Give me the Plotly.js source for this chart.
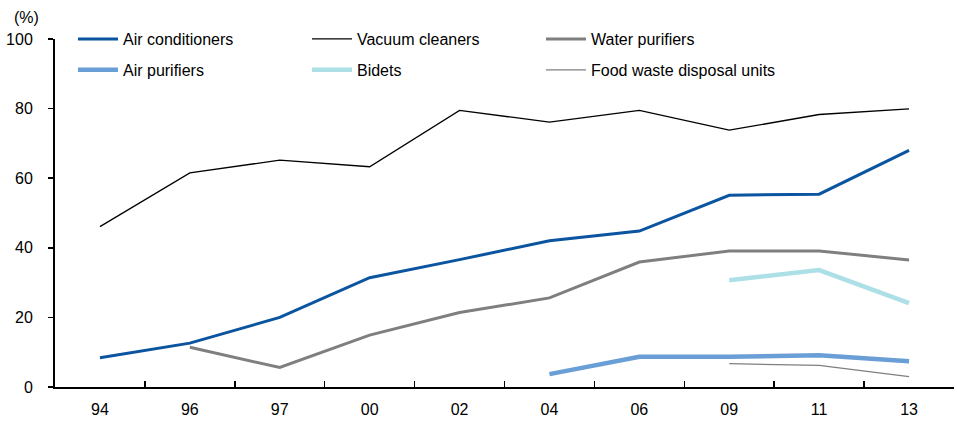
<!DOCTYPE html>
<html><head><meta charset="utf-8">
<script src="https://cdn.plot.ly/plotly-3.0.1.min.js"></script>
<style>body{margin:0;background:#fff}#c{width:957px;height:423px}</style>
</head><body><div id="c"></div>
<script>
const years = ['94','96','97','00','02','04','06','09','11','13'];
const airConditioners = [8.4, 12.6, 20.0, 31.4, 36.6, 42.0, 44.8, 55.1, 55.4, 68.0];
const vacuumCleaners = [46.1, 61.5, 65.2, 63.3, 79.5, 76.1, 79.5, 73.8, 78.3, 79.9];
const waterPurifiers = [null, 11.4, 5.6, 14.9, 21.4, 25.6, 35.9, 39.1, 39.1, 36.5];
const airPurifiers = [null, null, null, null, null, 3.7, 8.7, 8.7, 9.1, 7.4];
const bidets = [null, null, null, null, null, null, null, 30.7, 33.6, 24.1];
const foodWaste = [null, null, null, null, null, null, null, 6.7, 6.2, 3.0];
const seriesNames = ['Air conditioners','Vacuum cleaners','Water purifiers','Air purifiers','Bidets','Food waste disposal units'];
const yTicks = [0,20,40,60,80,100];

const styles = [
  {color:'#0a54a0', width:3},
  {color:'#000000', width:1.3},
  {color:'#7f7f7f', width:3},
  {color:'#6a9ed6', width:4.5},
  {color:'#ade0e6', width:4.5},
  {color:'#7f7f7f', width:1.2}
];
const values = [airConditioners, vacuumCleaners, waterPurifiers, airPurifiers, bidets, foodWaste];
const traces = values.map((v,i)=>({
  type:'scatter', mode:'lines', x:years, y:v, name:seriesNames[i],
  legend: i < 3 ? 'legend' : 'legend2',
  line:{color:styles[i].color, width:styles[i].width}, connectgaps:false, hoverinfo:'skip'
}));

const font = {family:'"Liberation Sans", Arial, sans-serif', size:16, color:'#000'};
const legBase = {orientation:'h', x:0.02, xanchor:'left', yanchor:'middle',
    entrywidth:179, entrywidthmode:'pixels', itemwidth:40, tracegroupgap:0,
    font:font, bgcolor:'rgba(0,0,0,0)', traceorder:'normal'};
const layout = {
  width:957, height:423,
  margin:{l:55, r:3, t:39, b:36},
  paper_bgcolor:'#fff', plot_bgcolor:'#fff',
  font:font,
  showlegend:true,
  legend:Object.assign({}, legBase, {y:1.0}),
  legend2:Object.assign({}, legBase, {y:0.911}),
  xaxis:{type:'category', categoryarray:years, range:[-0.5,9.5], showgrid:false, zeroline:false,
    showline:true, linecolor:'#000', linewidth:2, ticks:'inside', tickson:'boundaries',
    ticklen:6, tickcolor:'#000', tickwidth:1.5, ticklabelstandoff:7, tickfont:font, fixedrange:true},
  yaxis:{range:[0,100], tickvals:yTicks, ticktext:yTicks.map(String), showgrid:false, zeroline:false,
    showline:true, linecolor:'#000', linewidth:2, ticks:'outside', ticklen:5, tickcolor:'#000', tickwidth:1.5,
    ticklabelstandoff:12, tickfont:font, fixedrange:true},
  annotations:[{text:'(%)', xref:'paper', yref:'paper', x:-0.048, y:1.0, yshift:22, xanchor:'left', yanchor:'middle',
    showarrow:false, font:font}]
};
Plotly.newPlot('c', traces, layout, {staticPlot:true, displayModeBar:false});
</script></body></html>
